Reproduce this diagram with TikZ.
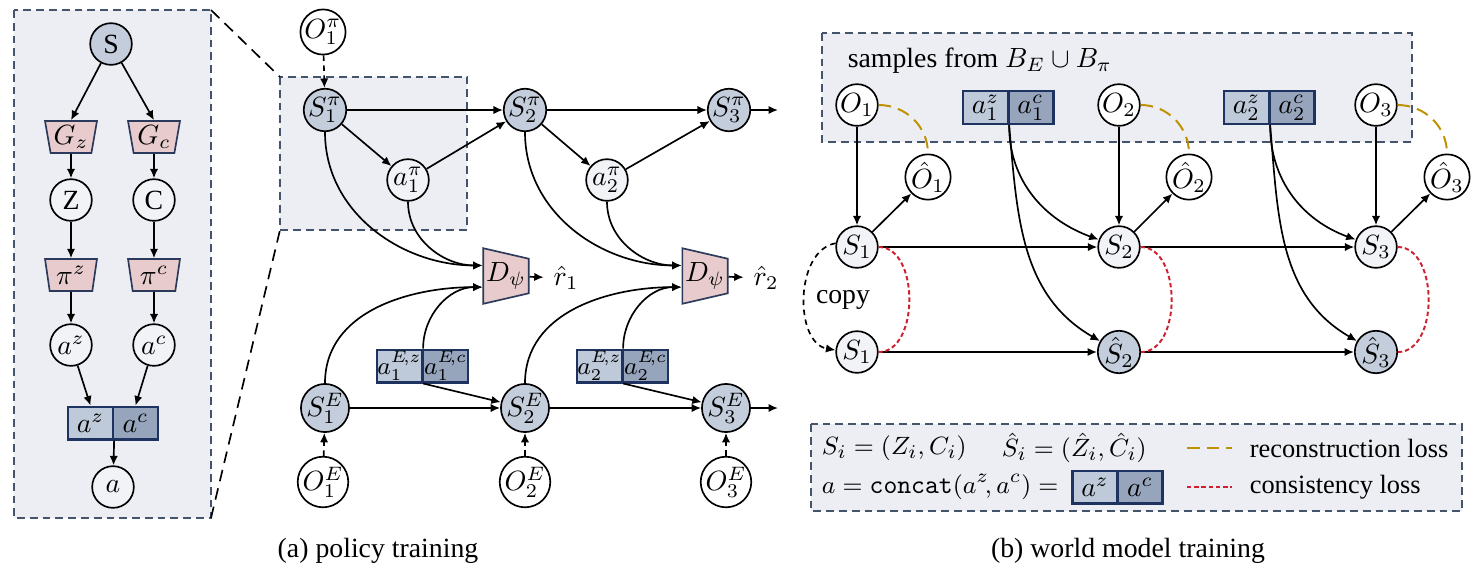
\documentclass[tikz,border=0pt]{standalone}
\usepackage{amsmath,amssymb}
\usepackage{fontspec}
\setmainfont{Liberation Serif}
\usetikzlibrary{arrows.meta,shapes.geometric}
\definecolor{panel}{HTML}{ECEEF3}
\definecolor{frameline}{HTML}{44546A}
\definecolor{stgray}{HTML}{C4CDDB}
\definecolor{stlight}{HTML}{F1F3F7}
\definecolor{pinkish}{HTML}{E8CCCD}
\definecolor{navy}{HTML}{2B3A5A}
\definecolor{boxlt}{HTML}{BECAD9}
\definecolor{boxdk}{HTML}{96A4BC}
\definecolor{boxline}{HTML}{1F3360}
\definecolor{gold}{HTML}{BF9000}
\definecolor{redl}{HTML}{D0202F}

\begin{document}
\begin{tikzpicture}[x=0.36pt,y=0.36pt,
  st/.style={circle,draw,line width=0.6pt,minimum size=15pt,inner sep=0pt,fill=stgray},
  lt/.style={st,fill=stlight},
  ob/.style={st,fill=white},
  gen/.style={trapezium,draw=navy,fill=pinkish,line width=0.6pt,shape border rotate=180,
    trapezium stretches body,minimum width=18.7pt,minimum height=11.5pt,
    trapezium left angle=79,trapezium right angle=79,inner sep=1pt},
  disc/.style={gen,shape border rotate=270,minimum width=20pt,minimum height=13.7pt,
    trapezium left angle=77,trapezium right angle=77},
  half/.style={rectangle,draw=boxline,line width=0.8pt,minimum width=16.2pt,minimum height=11.8pt,inner sep=0pt},
  hz/.style={half,fill=boxlt},
  hc/.style={half,fill=boxdk},
  small/.style={font=\fontsize{8.6}{10}\selectfont},
  lgd/.style={anchor=west,font=\fontsize{9.5}{11}\selectfont},
  arr/.style={-{Latex[length=3.4pt,width=3pt]},line width=0.6pt},
  dsh/.style={arr,dash pattern=on 2pt off 1.6pt},
  frame/.style={draw=frameline,fill=panel,dash pattern=on 2.8pt off 1.8pt,line width=0.6pt},
  zoomline/.style={line width=0.6pt,dash pattern=on 4.2pt off 2.6pt},
  recon/.style={draw=gold,line width=0.7pt,dash pattern=on 4.5pt off 2.6pt},
  consist/.style={draw=redl,line width=0.7pt,dash pattern=on 1.6pt off 1pt}]
\useasboundingbox (0,0) rectangle (1476,-575);

% (a) left: inside of the state
\draw[frame] (14,-10) rectangle (211,-518);
\coordinate (lpne) at (211,-10);
\coordinate (lpse) at (211,-518);
\node[st] (S) at (111,-44) {S};
\node[gen] (Gz) at (71,-137) {$G_z$};
\node[gen] (Gc) at (154,-137) {$G_c$};
\node[lt] (Z) at (71,-200) {Z};
\node[lt] (C) at (154,-200) {C};
\node[gen] (piz) at (71,-275) {$\pi^z$};
\node[gen] (pic) at (154,-275) {$\pi^c$};
\node[lt] (az) at (71,-345) {$a^z$};
\node[lt] (ac) at (154,-345) {$a^c$};
\node[hz] (cz) at (90.5,-423) {$a^z$};
\node[hc] (cc) at (135.5,-423) {$a^c$};
\node[lt] (a) at (113,-487) {$a$};
\draw[arr] (S) -- (Gz.north);
\draw[arr] (S) -- (Gc.north);
\draw[arr] (Gz) -- (Z);
\draw[arr] (Gc) -- (C);
\draw[arr] (Z) -- (piz);
\draw[arr] (C) -- (pic);
\draw[arr] (piz) -- (az);
\draw[arr] (pic) -- (ac);
\draw[arr] (az) -- (cz.north);
\draw[arr] (ac) -- (cc.north);
\draw[arr] (cz.south east) -- (a);

% (a) policy training
\draw[frame] (280,-77) rectangle (467,-230);
\coordinate (hlnw) at (280,-77);
\coordinate (hlsw) at (280,-230);
\draw[zoomline] (lpne) -- (hlnw);
\draw[zoomline] (lpse) -- (hlsw);

\node[ob] (Op1) at (323,-32) {$O_1^\pi$};
\node[st] (Sp1) at (325,-110) {$S_1^\pi$};
\node[st] (Sp2) at (525,-110) {$S_2^\pi$};
\node[st] (Sp3) at (729,-110) {$S_3^\pi$};
\coordinate (Sp3out) at (778,-110);
\node[lt] (ap1) at (408,-180) {$a_1^\pi$};
\node[lt] (ap2) at (607,-180) {$a_2^\pi$};
\node[disc] (D1) at (506,-276) {$D_\psi$};
\node[disc] (D2) at (705,-276) {$D_\psi$};
\node (r1) at (566,-278) {$\hat r_1$};
\node (r2) at (766,-278) {$\hat r_2$};
\node[hz,small] (ez1) at (399.5,-366) {$a_1^{E\!,z}$};
\node[hc,small] (ec1) at (445.5,-366) {$a_1^{E\!,c}$};
\node[hz,small] (ez2) at (599.5,-366) {$a_2^{E\!,z}$};
\node[hc,small] (ec2) at (645.5,-366) {$a_2^{E\!,c}$};
\node[st] (SE1) at (325,-408) {$S_1^E$};
\node[st] (SE2) at (525,-408) {$S_2^E$};
\node[st] (SE3) at (726,-408) {$S_3^E$};
\coordinate (SE3out) at (778,-408);
\node[ob] (OE1) at (323,-482) {$O_1^E$};
\node[ob] (OE2) at (525,-482) {$O_2^E$};
\node[ob] (OE3) at (726,-482) {$O_3^E$};

\draw[dsh] (Op1) -- (Sp1);
\draw[arr] (Sp1) -- (Sp2);
\draw[arr] (Sp2) -- (Sp3);
\draw[arr] (Sp3) -- (Sp3out);
\draw[arr] (Sp1) -- (ap1);
\draw[arr] (ap1) -- (Sp2);
\draw[arr] (Sp2) -- (ap2);
\draw[arr] (ap2) -- (Sp3);
\draw[arr] (Sp1.south) to[out=-90,in=180] ([yshift=3.8pt]D1.west);
\draw[arr] (ap1.south) to[out=-90,in=180] ([yshift=3.8pt]D1.west);
\draw[arr] (Sp2.south) to[out=-90,in=180] ([yshift=3.8pt]D2.west);
\draw[arr] (ap2.south) to[out=-90,in=180] ([yshift=3.8pt]D2.west);
\draw[arr] (SE1.north) to[out=90,in=180] ([yshift=-4pt]D1.west);
\draw[arr] (ez1.north east) to[out=90,in=180] ([yshift=-4pt]D1.west);
\draw[arr] (SE2.north) to[out=90,in=180] ([yshift=-4pt]D2.west);
\draw[arr] (ez2.north east) to[out=90,in=180] ([yshift=-4pt]D2.west);
\draw[arr] (D1) -- (r1);
\draw[arr] (D2) -- (r2);
\draw[arr] (ez1.south east) -- (SE2);
\draw[arr] (ez2.south east) -- (SE3);
\draw[arr] (SE1) -- (SE2);
\draw[arr] (SE2) -- (SE3);
\draw[arr] (SE3) -- (SE3out);
\draw[dsh] (OE1) -- (SE1);
\draw[dsh] (OE2) -- (SE2);
\draw[dsh] (OE3) -- (SE3);

% (b) world model training
\draw[frame] (822,-33) rectangle (1412,-142);
\node[anchor=west] (smp) at (838,-61) {samples from $B_E \cup B_\pi$};
\node[ob] (O1) at (857,-105) {$O_1$};
\node[ob] (O2) at (1119,-105) {$O_2$};
\node[ob] (O3) at (1376,-105) {$O_3$};
\node[hz] (bz1) at (985.5,-107.5) {$a_1^z$};
\node[hc] (bc1) at (1031,-107.5) {$a_1^c$};
\node[hz] (bz2) at (1246.5,-107.5) {$a_2^z$};
\node[hc] (bc2) at (1292,-107.5) {$a_2^c$};
\node[ob] (Oh1) at (928,-177) {$\hat O_1$};
\node[ob] (Oh2) at (1189,-177) {$\hat O_2$};
\node[ob] (Oh3) at (1447,-177) {$\hat O_3$};
\node[lt] (S1) at (857,-247) {$S_1$};
\node[lt] (S2) at (1119,-247) {$S_2$};
\node[lt] (S3) at (1376,-247) {$S_3$};
\node[lt] (Sc1) at (857,-352) {$S_1$};
\node[st] (Sh2) at (1119,-352) {$\hat S_2$};
\node[st] (Sh3) at (1376,-352) {$\hat S_3$};
\node (cpy) at (843,-300) {copy};

\draw[recon] (O1.east) to[out=0,in=90] (Oh1.north);
\draw[recon] (O2.east) to[out=0,in=90] (Oh2.north);
\draw[recon] (O3.east) to[out=0,in=90] (Oh3.north);
\draw[arr] (O1) -- (S1);
\draw[arr] (O2) -- (S2);
\draw[arr] (O3) -- (S3);
\draw[arr] (S1) -- (Oh1);
\draw[arr] (S2) -- (Oh2);
\draw[arr] (S3) -- (Oh3);
\draw[arr] (S1) -- (S2);
\draw[arr] (S2) -- (S3);
\draw[arr] (Sc1) -- (Sh2);
\draw[arr] (Sh2) -- (Sh3);
\draw[arr] (bz1.south east) to[out=-90,in=160] (S2);
\draw[arr] (bz1.south east) to[out=-85,in=150] (Sh2);
\draw[arr] (bz2.south east) to[out=-90,in=160] (S3);
\draw[arr] (bz2.south east) to[out=-85,in=150] (Sh3);
\draw[dsh] (S1.170) to[out=190,in=170] (Sc1.175);
\draw[consist] (S1.east) to[out=0,in=0] (Sc1.east);
\draw[consist] (S2.east) to[out=0,in=0] (Sh2.east);
\draw[consist] (S3.east) to[out=0,in=0] (Sh3.east);

% legend
\draw[frame] (811,-424) rectangle (1462,-511);
\node[lgd] (lg1) at (812,-448) {$S_i = (Z_i, C_i)$};
\node[lgd] (lg2) at (992,-448) {$\hat S_i = (\hat Z_i, \hat C_i)$};
\node[lgd] (lg3) at (812,-487) {$a = \mathtt{concat}(a^z\!, a^c) =$};
\node[hz] (lz) at (1095,-487) {$a^z$};
\node[hc] (lc) at (1140,-487) {$a^c$};
\draw[recon] (1187,-448) -- (1232,-448);
\draw[consist] (1187,-487) -- (1232,-487);
\node[lgd] (lg4) at (1240,-448) {reconstruction loss};
\node[lgd] (lg5) at (1240,-487) {consistency loss};

% captions
\node (capa) at (378,-551) {(a) policy training};
\node (capb) at (1128,-551) {(b) world model training};
\end{tikzpicture}
\end{document}
